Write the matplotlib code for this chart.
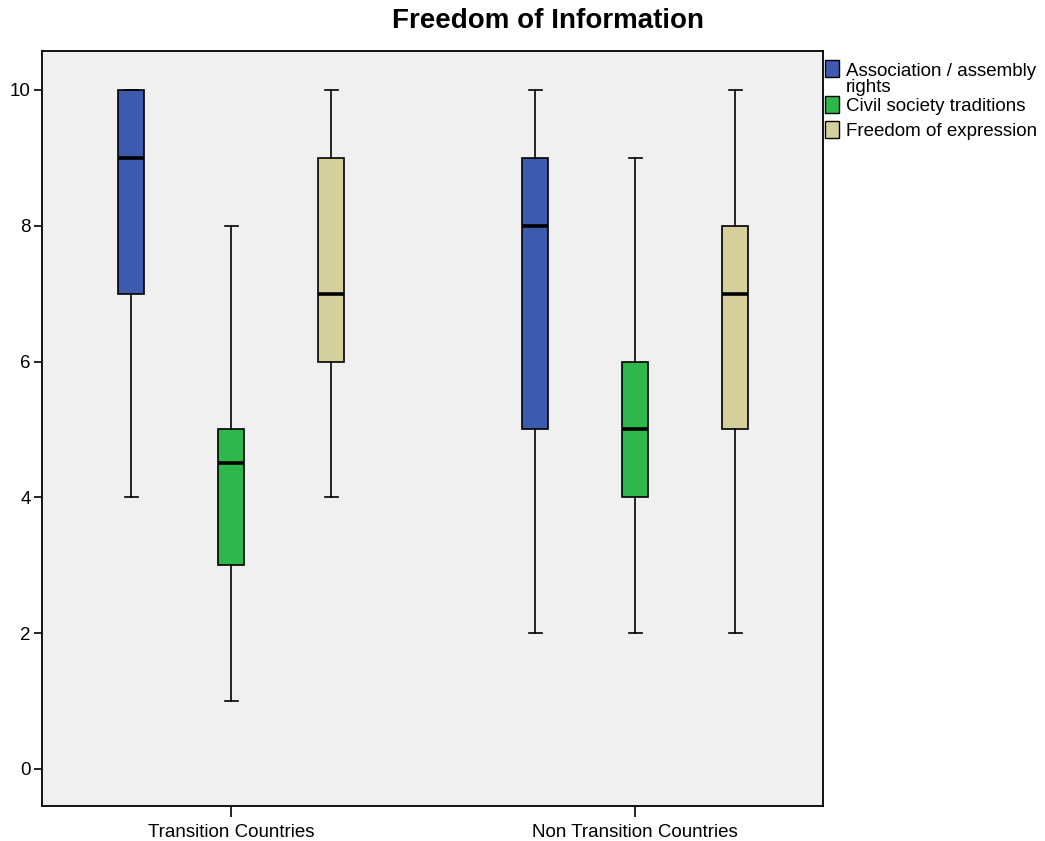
import matplotlib
matplotlib.use("Agg")
import matplotlib.pyplot as plt
from matplotlib.patches import Rectangle

plt.rcParams['font.family'] = ['Liberation Sans', 'DejaVu Sans']

groups = ["Transition Countries", "Non Transition Countries"]
series = ["Association / assembly\nrights", "Civil society traditions", "Freedom of expression"]
colors = ["#3d5aae", "#2eb84b", "#d5d09b"]

# five-number summaries per series, one entry per group: (low, q1, median, q3, high)
assoc = [(4, 7, 9, 10, 10), (2, 5, 8, 9, 10)]
civil = [(1, 3, 4.5, 5, 8), (2, 4, 5, 6, 9)]
expr = [(4, 6, 7, 9, 10), (2, 5, 7, 8, 10)]
data = [assoc, civil, expr]

offsets = [-0.2475, 0.0, 0.2475]
bw = 0.0644

fig = plt.figure(figsize=(10.45, 8.41), dpi=100)
ax = fig.add_axes([42/1045, 35/841, 781/1045, 755/841])
ax.set_facecolor("#f0f0f0")

for s, (vals, col, off) in enumerate(zip(data, colors, offsets)):
    stats = []
    for lo, q1, med, q3, hi in vals:
        stats.append(dict(whislo=lo, q1=q1, med=med, q3=q3, whishi=hi, fliers=[]))
    pos = [g + off for g in range(len(groups))]
    ax.bxp(stats, positions=pos, widths=bw, capwidths=bw/2, patch_artist=True,
           showfliers=False, manage_ticks=False,
           boxprops=dict(facecolor=col, edgecolor="black", linewidth=1.2),
           medianprops=dict(color="black", linewidth=2.6, solid_capstyle="butt"),
           whiskerprops=dict(color="black", linewidth=1.2),
           capprops=dict(color="black", linewidth=1.2))

ax.set_xlim(-0.468, 1.465)
ax.set_ylim(-0.545, 10.574)
ax.set_xticks(range(len(groups)))
ax.set_xticklabels(groups, fontsize=13.5)
ax.set_yticks([0, 2, 4, 6, 8, 10])
ax.tick_params(axis='y', labelsize=13.5, length=6, width=1.2, pad=2)
ax.tick_params(axis='x', length=8, width=1.2, pad=5)
for sp in ax.spines.values():
    sp.set_linewidth(1.3)

fig.text(548/1045, 1 - 21/841, "Freedom of Information", ha="center", va="center",
         fontsize=20, fontweight="bold")

# legend to the right of the plot, in figure pixels
leg_y = [60, 96, 121]
for lab, col, y in zip(series, colors, leg_y):
    fig.patches.append(Rectangle((825/1045, 1 - (y + 17)/841), 14/1045, 17/841,
                                 transform=fig.transFigure, facecolor=col,
                                 edgecolor="black", linewidth=1.0))
    base = y + 15 + 17 * lab.count("\n")
    fig.text(846/1045, 1 - base/841, lab, ha="left", va="baseline", fontsize=13.5,
             linespacing=0.95)

fig.savefig("out.png", dpi=100)
